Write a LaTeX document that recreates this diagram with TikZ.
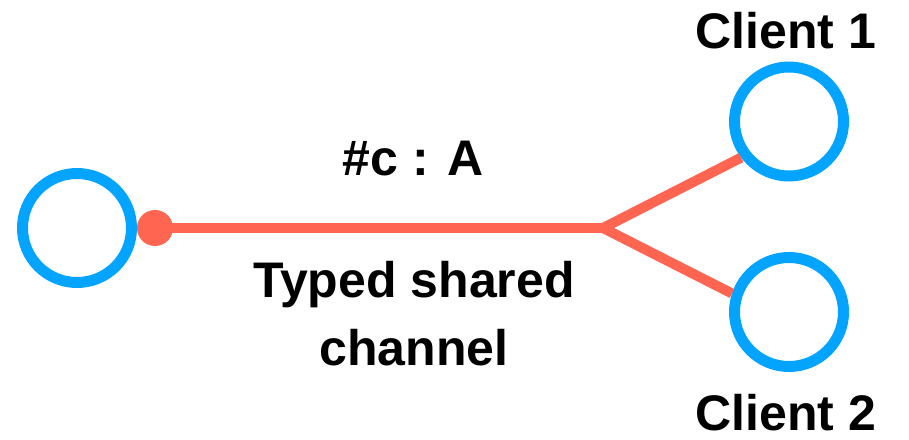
\documentclass[tikz,border=0pt]{standalone}
\usepackage{fontspec}
\setmainfont{Liberation Sans}
\definecolor{cblue}{RGB}{2,164,255}
\definecolor{cred}{RGB}{255,101,80}
\begin{document}
\begin{tikzpicture}[x=1pt,y=1pt,
  agent/.style={circle,draw=cblue,line width=11pt,minimum size=109pt,inner sep=0pt},
  chan/.style={draw=cred,line width=10pt},
  lbl/.style={font=\fontsize{50}{68}\selectfont\bfseries,inner sep=0pt,anchor=base,align=center}]
\useasboundingbox (0,0) rectangle (909,439);
\node[agent] (L) at (77,211) {};
\node[agent] (c1) at (789,317.5) {};
\node[agent] (c2) at (789,127) {};
\node[circle,fill=cred,minimum size=36pt,inner sep=0pt] (d) at (155,211) {};
\coordinate (b) at (603,211);
\draw[chan] (d.center) -- (b);
\draw[chan] (b) -- (c1.217);
\draw[chan] (b) -- (c2.162);
\node[lbl] (t) at (413,263) {\#c : A};
\node[lbl] (s) at (414,74) {Typed shared\\channel};
\node[lbl] (n1) at (786,390) {Client 1};
\node[lbl] (n2) at (786,9) {Client 2};
\end{tikzpicture}
\end{document}
